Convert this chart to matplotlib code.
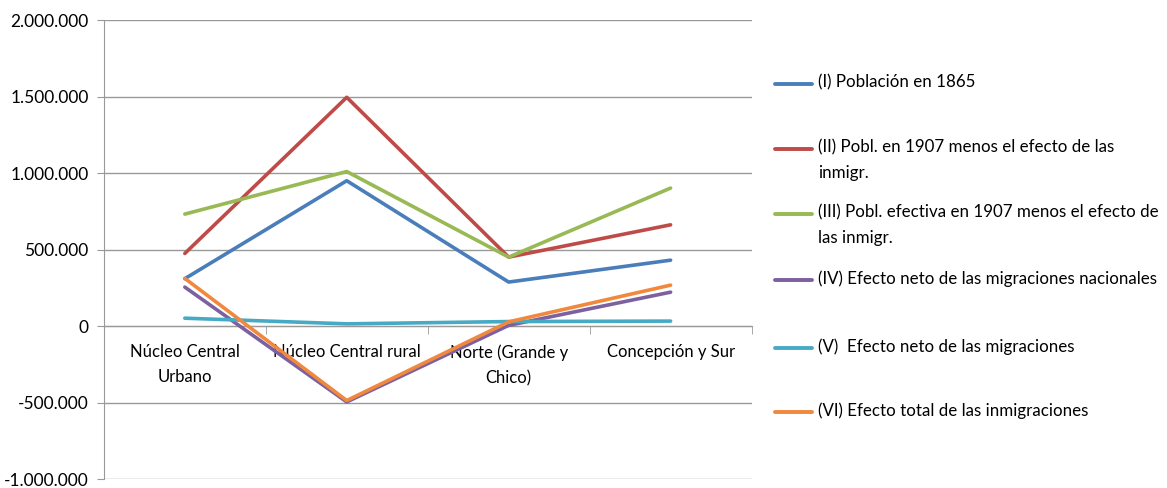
import matplotlib
matplotlib.use("Agg")
import matplotlib.pyplot as plt
from matplotlib.lines import Line2D
from matplotlib.ticker import FuncFormatter, MultipleLocator, FixedLocator

plt.rcParams['font.family'] = ['Lato', 'DejaVu Sans']

regions = ["Núcleo Central\nUrbano", "Núcleo Central rural",
           "Norte (Grande y\nChico)", "Concepción y Sur"]

poblacion_1865 = [310000, 950000, 288000, 431000]
pobl_1907_sin_inmigr = [475000, 1495000, 451000, 662000]
pobl_efectiva_1907 = [732000, 1010000, 451000, 902000]
migr_nacionales = [255000, -495000, 5000, 222000]
migr_neto = [52000, 15000, 30000, 33000]
inmigraciones = [312000, -486000, 28000, 268000]

series = [poblacion_1865, pobl_1907_sin_inmigr, pobl_efectiva_1907,
          migr_nacionales, migr_neto, inmigraciones]
labels = ["(I) Población en 1865",
          "(II) Pobl. en 1907 menos el efecto de las\ninmigr.",
          "(III) Pobl. efectiva en 1907 menos el efecto de\nlas inmigr.",
          "(IV) Efecto neto de las migraciones nacionales",
          "(V)  Efecto neto de las migraciones",
          "(VI) Efecto total de las inmigraciones"]
colors = ["#4A7EBB", "#BE4B48", "#98B954", "#7D60A0", "#46AAC5", "#F0883E"]

fig = plt.figure(figsize=(11.67, 4.88), dpi=100)
ax = fig.add_axes([0.089, 0.018, 0.555, 0.941])

x = range(len(regions))
for vals, col in zip(series, colors):
    ax.plot(x, vals, color=col, lw=2.6, solid_capstyle="round", zorder=3)

ax.set_xlim(-0.5, len(regions) - 0.5)
ax.set_ylim(-1000000, 2000000)
ax.yaxis.set_major_locator(MultipleLocator(500000))
ax.yaxis.set_major_formatter(FuncFormatter(lambda v, p: f"{int(v):,}".replace(",", ".")))
ax.grid(axis="y", color="#999999", lw=1.0, zorder=1)
ax.set_axisbelow(True)

for s in ["top", "right"]:
    ax.spines[s].set_visible(False)
ax.spines["left"].set_color("#999999")
ax.spines["bottom"].set_color("#999999")
ax.spines["bottom"].set_position(("data", 0))

ax.tick_params(axis="y", length=5, color="#999999", labelsize=12.5, pad=6)
ax.xaxis.set_major_locator(FixedLocator(list(x)))
ax.xaxis.set_minor_locator(FixedLocator([i + 0.5 for i in x]))
ax.set_xticklabels(regions, fontsize=12, linespacing=1.7, va="top")
ax.tick_params(axis="x", which="major", length=0, pad=13)
ax.tick_params(axis="x", which="minor", length=6, color="#999999", direction="out")

# legend drawn by hand so wrapped labels hang from the first line
leg_y = [84, 149, 214, 280, 348, 412]
W, H = 1167.0, 488.0
for lab, col, yp in zip(labels, colors, leg_y):
    yf = 1 - yp / H
    fig.add_artist(Line2D([775 / W, 812 / W], [yf, yf], color=col, lw=2.8,
                          solid_capstyle="round", transform=fig.transFigure))
    fig.text(818 / W, 1 - (yp - 10) / H, lab, fontsize=12.2, va="top", ha="left",
             linespacing=1.75, transform=fig.transFigure)

fig.savefig("out.png", dpi=100, facecolor="white")
